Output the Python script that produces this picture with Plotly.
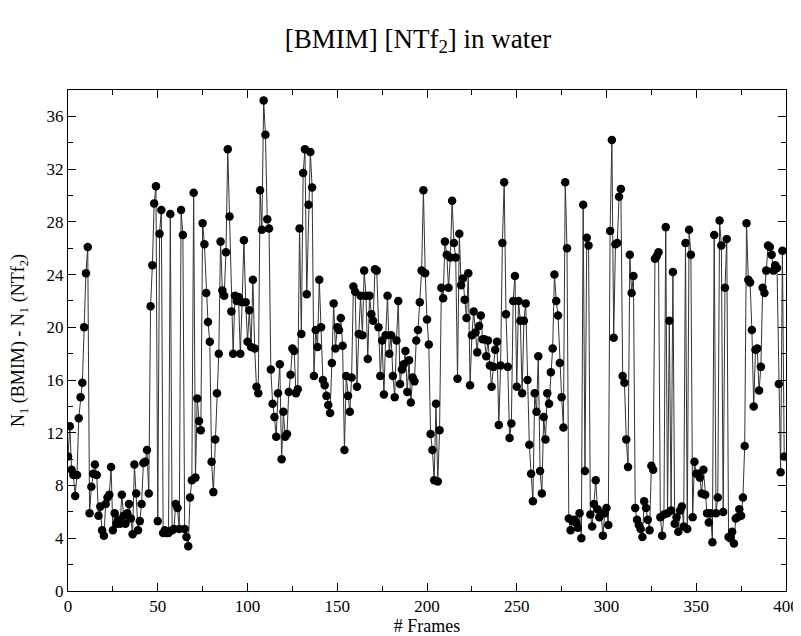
import plotly.graph_objects as go

# N1(BMIM) - N1(NTf2) per frame in eight blocks of ~50 frames
block1 = [10.2, 12.5, 9.2, 8.8, 7.2, 8.8, 13.1, 14.7, 15.8, 20.0, 24.1, 26.1, 5.9, 7.9, 8.9,
          9.6, 8.8, 5.7, 6.4, 4.6, 4.2, 6.6, 7.1, 7.3, 9.4, 4.6, 5.9, 5.1, 5.4, 5.1,
          7.3, 5.7, 5.1, 5.9, 6.6, 5.5, 4.3, 9.6, 7.4, 4.6, 5.3, 6.6, 9.7, 9.8, 10.7,
          7.4, 21.6, 24.7, 29.4, 30.7]
block2 = [5.3, 27.1, 28.9, 4.4, 4.6, 4.4, 4.4, 28.6, 4.6, 4.7, 6.6, 6.3, 4.7, 28.9, 27.0,
          4.7, 4.1, 3.4, 7.1, 8.4, 30.2, 8.6, 14.6, 12.9, 12.2, 27.9, 26.3, 22.6, 20.4, 18.9,
          9.8, 7.5, 11.5, 15.0, 18.0, 26.5, 22.8, 22.4, 25.7, 33.5, 28.4, 21.2, 18.0, 22.4, 22.0,
          22.3, 18.0, 21.9, 26.6, 21.9, 18.9]
block3 = [21.3, 18.5, 23.6, 18.4, 15.5, 15.0, 30.4, 27.4, 37.2, 34.6, 28.2, 27.5, 16.8, 14.2, 13.2,
          11.7, 15.0, 17.2, 10.0, 13.6, 11.7, 11.9, 15.1, 16.4, 18.4, 18.2, 15.0, 15.3, 27.5, 19.5,
          31.7, 33.5, 22.5, 29.3, 33.3, 30.6, 16.3, 19.8, 18.5, 23.6, 20.0, 16.0, 15.6, 14.8, 14.1,
          13.5, 17.3, 21.8, 18.4, 20.0]
block4 = [19.8, 20.7, 18.6, 10.7, 16.3, 14.8, 13.6, 16.2, 23.1, 22.7, 15.5, 19.5, 22.4, 19.4, 24.3,
          22.4, 17.6, 22.4, 21.0, 20.5, 24.4, 24.3, 20.0, 16.3, 19.0, 14.9, 19.4, 22.4, 18.0, 19.4,
          16.3, 14.7, 19.0, 22.0, 15.7, 16.8, 17.2, 18.2, 15.1, 17.5, 14.3, 16.2, 15.9, 19.0, 19.8,
          21.9, 24.3, 30.4]
block5 = [24.1, 20.6, 18.7, 11.9, 10.7, 8.4, 14.2, 8.3, 12.2, 23.0, 22.2, 26.5, 25.5, 23.0, 25.3,
          29.6, 26.4, 25.3, 16.1, 27.1, 23.2, 23.7, 22.1, 20.7, 24.1, 15.6, 19.4, 21.2, 19.6, 18.1,
          20.1, 20.9, 19.1, 19.1, 17.8, 19.0, 17.1, 15.5, 17.0, 18.3, 18.9, 12.6, 17.1, 26.4, 31.0,
          21.0, 17.0, 11.6, 12.7, 22.0, 23.9, 15.5]
block6 = [22.0, 20.5, 15.0, 20.5, 21.8, 16.0, 11.1, 8.9, 6.8, 15.0, 13.6, 17.8, 9.1, 7.4, 13.2,
          11.5, 15.0, 14.2, 16.6, 18.4, 24.0, 22.0, 20.9, 17.3, 14.7, 12.4, 31.0, 26.0, 5.5, 4.6,
          5.3, 5.4, 5.2, 4.8, 5.9, 4.0, 29.3, 9.1, 26.8, 26.2, 5.8, 4.9, 6.6, 8.4, 6.2,
          5.6, 5.9, 4.2, 5.9, 6.3, 5.0]
block7 = [27.3, 34.2, 19.2, 26.3, 26.4, 29.9, 30.5, 16.3, 15.8, 11.5, 9.4, 25.5, 22.6, 23.9, 6.3,
          5.4, 5.0, 4.7, 4.1, 6.8, 6.3, 5.4, 4.6, 9.5, 9.2, 25.2, 25.4, 25.7, 5.6, 4.2,
          5.8, 27.6, 5.9, 20.5, 6.1, 24.2, 5.1, 5.6, 4.5, 6.1, 6.4, 4.9, 26.4, 4.7, 27.4,
          25.5, 5.6, 9.8, 8.9]
block8 = [8.9, 8.6, 7.4, 9.2, 7.3, 5.9, 5.2, 5.9, 3.7, 27.0, 5.9, 7.1, 28.1, 26.2, 6.0,
          23.0, 26.7, 4.1, 4.0, 4.5, 3.6, 5.5, 5.6, 6.2, 5.7, 7.1, 11.0, 27.9, 23.6, 23.4,
          19.8, 14.0, 18.3, 18.4, 15.2, 17.0, 23.0, 22.6, 24.3, 26.2, 26.1, 25.5, 24.3, 24.7, 24.5,
          15.7, 9.0, 25.8, 10.2]

values = block1 + block2 + block3 + block4 + block5 + block6 + block7 + block8
frames = list(range(len(values)))

x_ticks = [0, 50, 100, 150, 200, 250, 300, 350, 400]
y_ticks = [0, 4, 8, 12, 16, 20, 24, 28, 32, 36]

SERIF = '"Liberation Serif"'

fig = go.Figure(go.Scatter(
    x=frames, y=values,
    mode='lines+markers',
    line=dict(color='#333333', width=1),
    marker=dict(color='black', size=8.5, symbol='circle'),
    showlegend=False,
))

axis_style = dict(
    showline=True, linecolor='black', linewidth=1, mirror='ticks',
    ticks='inside', ticklen=8, tickcolor='black',
    showgrid=False, zeroline=False, automargin=False,
    tickfont=dict(family=SERIF, size=17, color='black'),
)

# the page body has an 8px margin, so the figure is sized to fit the window after it
fig.update_layout(
    width=793, height=628,
    paper_bgcolor='white', plot_bgcolor='white',
    margin=dict(l=60, r=15, t=82, b=45),
    font=dict(family=SERIF, color='black'),
    title=dict(text='[BMIM] [NTf<sub>2</sub>] in water', x=0.517, xanchor='center',
               y=0.952, yanchor='middle', font=dict(family=SERIF, size=27)),
    xaxis=dict(axis_style, range=[0, 400], tickvals=x_ticks,
               minor=dict(dtick=25, ticks='inside', ticklen=5, tickcolor='black'),
               title=dict(text='# Frames', font=dict(family=SERIF, size=18), standoff=2)),
    yaxis=dict(axis_style, range=[0, 38], tickvals=y_ticks,
               minor=dict(dtick=2, ticks='inside', ticklen=5, tickcolor='black'),
               title=dict(text='N<sub>1</sub> (BMIM) - N<sub>1</sub> (NTf<sub>2</sub>)',
                          font=dict(family=SERIF, size=18), standoff=20)),
)

fig.write_html('out.html')
